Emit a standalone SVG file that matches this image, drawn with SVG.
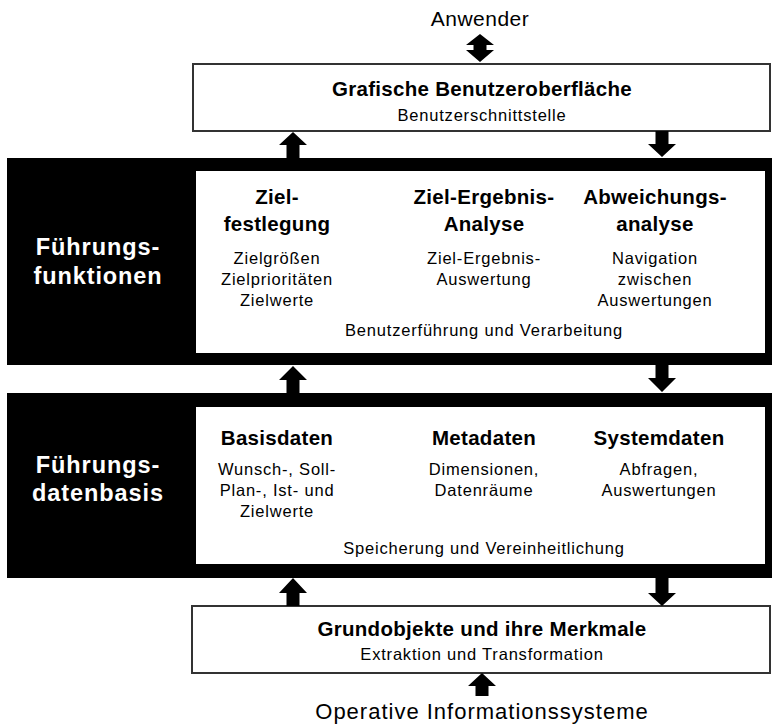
<svg xmlns="http://www.w3.org/2000/svg" width="773" height="728" viewBox="0 0 773 728">
  <style>
    text { font-family: "Liberation Sans", Arial, sans-serif; text-anchor: middle; fill: #000; }
    .h { font-weight: bold; font-size: 20.5px; letter-spacing: 0.3px; }
    .s { font-size: 16.5px; letter-spacing: 0.8px; }
    .ext { font-size: 21px; letter-spacing: 0.5px; }
    .ext2 { font-size: 22px; letter-spacing: 1px; }
    .side { font-weight: bold; font-size: 23.5px; letter-spacing: 0.9px; fill: #fff; }
    .box { fill: #fff; stroke: #333; stroke-width: 2; }
    .band { fill: #000; }
    .inner { fill: #fff; }
    .arrow { fill: #000; }
  </style>

  <!-- external actor -->
  <g id="anwender">
    <text class="ext" x="480" y="26">Anwender</text>
  </g>

  <!-- user interface layer -->
  <g id="gui">
    <rect class="box" x="193" y="64" width="577" height="67"/>
    <text class="h" x="482" y="96">Grafische Benutzeroberfläche</text>
    <text class="s" x="482" y="121">Benutzerschnittstelle</text>
  </g>

  <!-- management functions layer -->
  <g id="fuehrungsfunktionen">
    <rect class="band" x="7" y="158" width="765" height="207"/>
    <rect class="inner" x="196" y="171" width="569" height="182"/>
    <text class="side" x="98" y="255">Führungs-</text>
    <text class="side" x="98" y="284">funktionen</text>

    <text class="h" x="277" y="204">Ziel-</text>
    <text class="h" x="277" y="231">festlegung</text>
    <text class="s" x="277" y="264">Zielgrößen</text>
    <text class="s" x="277" y="285">Zielprioritäten</text>
    <text class="s" x="277" y="306">Zielwerte</text>

    <text class="h" x="484" y="204">Ziel-Ergebnis-</text>
    <text class="h" x="484" y="231">Analyse</text>
    <text class="s" x="484" y="264">Ziel-Ergebnis-</text>
    <text class="s" x="484" y="285">Auswertung</text>

    <text class="h" x="655" y="204">Abweichungs-</text>
    <text class="h" x="655" y="231">analyse</text>
    <text class="s" x="655" y="264">Navigation</text>
    <text class="s" x="655" y="285">zwischen</text>
    <text class="s" x="655" y="306">Auswertungen</text>

    <text class="s" x="484" y="336">Benutzerführung und Verarbeitung</text>
  </g>

  <!-- management database layer -->
  <g id="fuehrungsdatenbasis">
    <rect class="band" x="7" y="393" width="765" height="185"/>
    <rect class="inner" x="196" y="407" width="569" height="157"/>
    <text class="side" x="98" y="473">Führungs-</text>
    <text class="side" x="98" y="501">datenbasis</text>

    <text class="h" x="277" y="445">Basisdaten</text>
    <text class="s" x="277" y="475">Wunsch-, Soll-</text>
    <text class="s" x="277" y="496">Plan-, Ist- und</text>
    <text class="s" x="277" y="517">Zielwerte</text>

    <text class="h" x="484" y="445">Metadaten</text>
    <text class="s" x="484" y="475">Dimensionen,</text>
    <text class="s" x="484" y="496">Datenräume</text>

    <text class="h" x="659" y="445">Systemdaten</text>
    <text class="s" x="659" y="475">Abfragen,</text>
    <text class="s" x="659" y="496">Auswertungen</text>

    <text class="s" x="484" y="554">Speicherung und Vereinheitlichung</text>
  </g>

  <!-- base objects layer -->
  <g id="grundobjekte">
    <rect class="box" x="192" y="606" width="578" height="67"/>
    <text class="h" x="482" y="636">Grundobjekte und ihre Merkmale</text>
    <text class="s" x="482" y="660">Extraktion und Transformation</text>
  </g>

  <!-- source systems -->
  <g id="operative-systeme">
    <text class="ext2" x="482" y="719">Operative Informationssysteme</text>
  </g>

  <!-- block arrows between layers -->
  <g id="connectors">
    <!-- double arrow: user <-> GUI -->
    <path class="arrow" d="M480,34 L494,45 L486.5,45 L486.5,50 L494,50 L480,62 L466,50 L473.5,50 L473.5,45 L466,45 Z"/>
    <!-- GUI <-> functions -->
    <path class="arrow" d="M293,132 L307,145 L299.5,145 L299.5,158 L286.5,158 L286.5,145 L279,145 Z"/>
    <path class="arrow" d="M662,157 L676,144 L668.5,144 L668.5,131 L655.5,131 L655.5,144 L648,144 Z"/>
    <!-- functions <-> database -->
    <path class="arrow" d="M293,366 L307,380 L299.5,380 L299.5,393 L286.5,393 L286.5,380 L279,380 Z"/>
    <path class="arrow" d="M662,392 L676,378 L668.5,378 L668.5,365 L655.5,365 L655.5,378 L648,378 Z"/>
    <!-- database <-> base objects -->
    <path class="arrow" d="M293,578 L307,593 L299.5,593 L299.5,606 L286.5,606 L286.5,593 L279,593 Z"/>
    <path class="arrow" d="M662,606 L676,593 L668.5,593 L668.5,578 L655.5,578 L655.5,593 L648,593 Z"/>
    <!-- source systems -> base objects -->
    <path class="arrow" d="M482,673 L496,686 L488.5,686 L488.5,696 L475.5,696 L475.5,686 L468,686 Z"/>
  </g>
</svg>
